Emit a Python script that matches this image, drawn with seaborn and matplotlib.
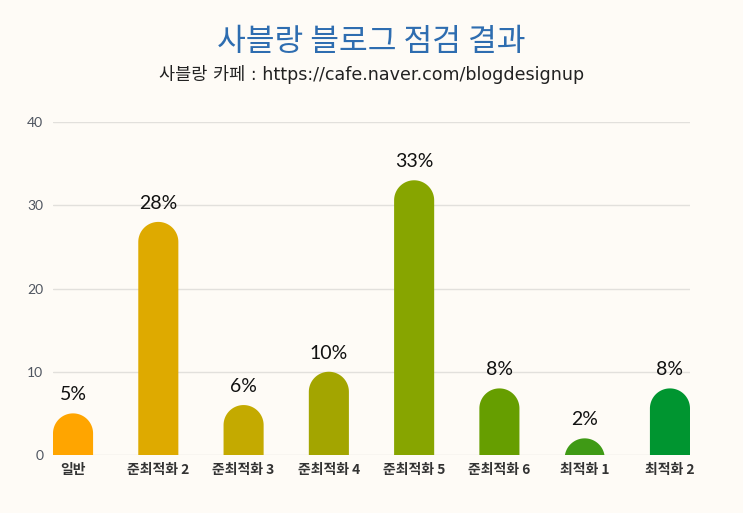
import matplotlib
matplotlib.use("Agg")
import matplotlib.pyplot as plt
import seaborn as sns
import pandas as pd
import numpy as np
from matplotlib.patches import Polygon

categories = ["일반", "준최적화 2", "준최적화 3", "준최적화 4", "준최적화 5", "준최적화 6", "최적화 1", "최적화 2"]
values = [5, 28, 6, 10, 33, 8, 2, 8]
colors = ["#FFA500", "#DEAA00", "#C4AA00", "#A3A500", "#87A500", "#669E00", "#3F9A15", "#009530"]
yticks = [0, 10, 20, 30, 40]

bg = "#FEFBF6"
sns.set_theme(style="white")
plt.rcParams["font.family"] = ["Noto Sans CJK KR", "DejaVu Sans"]

fig = plt.figure(figsize=(7.43, 5.13), dpi=100, facecolor=bg)
ax = fig.add_axes([53/743, 1-455/513, (690-53)/743, (455-122)/513])
ax.set_facecolor(bg)

df = pd.DataFrame({"cat": categories, "val": values})
bw = 0.47
sns.barplot(data=df, x="cat", y="val", hue="cat", palette=colors, width=bw,
            legend=False, ax=ax, saturation=1, zorder=3)
ax.set_xlim(-0.235, 7.235)
ax.set_ylim(0, 40)
fig.canvas.draw()

# rounded tops: radius in pixels -> data units
trans = ax.transData
p0 = trans.transform((0, 0))
p1 = trans.transform((bw, 1))
px_per_x = (p1[0] - p0[0]) / bw
px_per_y = (p1[1] - p0[1])
r_px = bw * px_per_x / 2
r_y = r_px / px_per_y

t = np.linspace(0, np.pi, 60)
for patch, v in zip(list(ax.patches), values):
    x0 = patch.get_x()
    w = patch.get_width()
    c = patch.get_facecolor()
    patch.set_visible(False)
    cy = v - r_y
    base = min(0, cy)
    cx = x0 + w / 2
    pts = [(x0, base), (x0 + w, base), (x0 + w, cy)]
    pts += [(cx + (w / 2) * np.cos(a), cy + r_y * np.sin(a)) for a in t]
    pts += [(x0, cy)]
    ax.add_patch(Polygon(pts, closed=True, facecolor=c, edgecolor="none",
                         linewidth=0, zorder=3))
    ax.text(cx, v + 1.2, f"{v}%", ha="center", va="bottom", fontsize=14,
            color="#111111", family=["Lato", "DejaVu Sans"])

ax.set_yticks(yticks)
ax.yaxis.grid(True, color="#E2E0DC", linewidth=1, zorder=0)
ax.set_axisbelow(True)
for s in ax.spines.values():
    s.set_visible(False)
ax.tick_params(axis="y", length=0, pad=7, labelsize=10, labelcolor="#4F5560")
for tl in ax.get_yticklabels():
    tl.set_family(["Lato", "DejaVu Sans"])
ax.tick_params(axis="x", length=0, pad=6, labelsize=10, labelcolor="#333333")
for tl in ax.get_xticklabels():
    tl.set_fontweight("bold")
ax.set_xlabel("")
ax.set_ylabel("")

fig.text(0.5, 1-42/513, "사블랑 블로그 점검 결과", ha="center", va="center",
         fontsize=22.5, color="#2E6DB0", fontweight="medium")
fig.text(0.5, 1-75/513, "사블랑 카페 : https://cafe.naver.com/blogdesignup", ha="center",
         va="center", fontsize=12.6, color="#222222",
         family=["DejaVu Sans", "Noto Sans CJK KR"])

fig.savefig("out.png", dpi=100, facecolor=bg)
